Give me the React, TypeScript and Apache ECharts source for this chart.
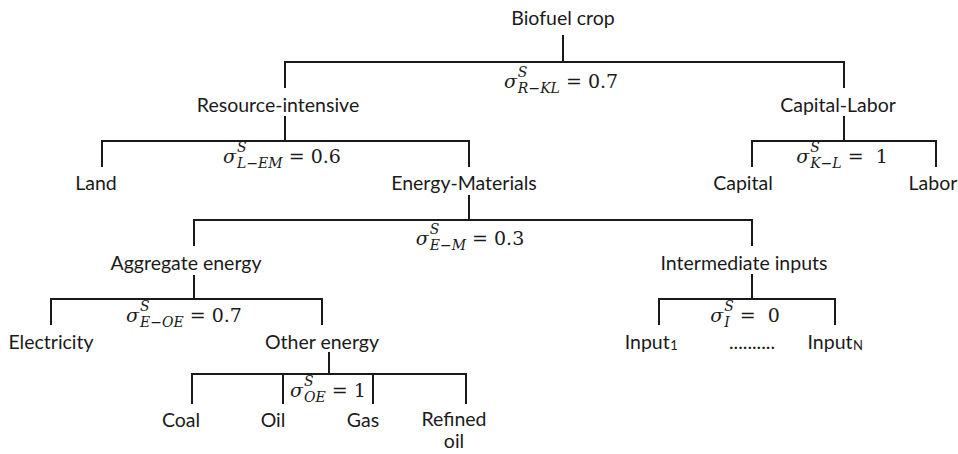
import React, { useEffect, useRef } from "react";
import * as echarts from "echarts";

// ---- Tree node labels (centre positions in diagram units) ----
const nodeLabels = [
  "Biofuel crop", "Resource-intensive", "Capital-Labor", "Land", "Energy-Materials",
  "Capital", "Labor", "Aggregate energy", "Intermediate inputs", "Electricity",
  "Other energy", "Input", "..........", "Input", "Coal", "Oil", "Gas", "Refined\noil",
];
const nodeSubscripts = ["", "", "", "", "", "", "", "", "", "", "", "1", "", "N", "", "", "", ""];
const nodeX = [563, 278, 838, 96, 464, 743, 933, 186, 744, 51, 322, 651, 752, 835, 181, 273, 363, 454];
const nodeY = [17, 104, 104, 182, 182, 182, 182, 262, 262, 341, 341, 341, 341, 341, 419, 419, 419, 429];

// ---- Elasticity of substitution labels ----
const sigmaSub = ["R\u2212KL", "L\u2212EM", "K\u2212L", "E\u2212M", "E\u2212OE", "I", "OE"];
const sigmaValue = ["0.7", "0.6", " 1", "0.3", "0.7", " 0", "1"];
const sigmaX = [561, 282, 842, 470, 184, 745, 328];
const sigmaY = [81, 156, 156, 238, 315, 315, 390];

// ---- Brackets (nest structure) ----
const bracketStemX = [563, 285, 844, 469, 194, 752, 329];
const bracketStemTop = [35, 116, 116, 195, 275, 274, 352];
const bracketBarY = [62, 141, 141, 220, 299, 299, 374];
const bracketDropBottom = [88, 167, 167, 246, 325, 325, 404];
const bracketChildX = [
  [285, 844], [102, 469], [752, 936], [194, 752], [51, 322], [659, 835], [192, 283, 373, 466],
];

const LABEL_FONT = "Lato";
const LABEL_SIZE = 19.5;
const SUB_SIZE = 13;
const MATH_FONT = "DejaVu Serif";
const MATH_SIZE = 19;
const SCRIPT_SIZE = 14;
const INK = "#1a1a1a";

const canvas = typeof document !== "undefined" ? document.createElement("canvas") : null;
const ctx = canvas ? canvas.getContext("2d") : null;
function measure(text: string, font: string): number {
  if (!ctx) return text.length * 8;
  ctx.font = font;
  return ctx.measureText(text).width;
}

export default function App() {
  const ref = useRef<HTMLDivElement>(null);
  useEffect(() => {
    if (!ref.current) return;
    document.body.style.margin = "0";
    const chart = echarts.init(ref.current, undefined, { renderer: "svg" });

    const bracketItem = (params: any, api: any) => {
      const i = params.dataIndex;
      const sx = api.value(0), st = api.value(1), by = api.value(2), db = api.value(3);
      const xs = bracketChildX[i];
      const lo = Math.min(...xs), hi = Math.max(...xs);
      const lineStyle = { stroke: INK, lineWidth: 2, fill: null, lineJoin: "miter" };
      const children: any[] = [];
      const a0 = api.coord([sx, st]), b0 = api.coord([sx, by]);
      children.push({ type: "line", shape: { x1: a0[0], y1: a0[1], x2: b0[0], y2: b0[1] }, style: lineStyle });
      const pts = [[lo, db], [lo, by], [hi, by], [hi, db]].map((p) => api.coord(p));
      children.push({ type: "polyline", shape: { points: pts }, style: lineStyle });
      xs.filter((x) => x !== lo && x !== hi).forEach((x) => {
        const a = api.coord([x, by]), b = api.coord([x, db]);
        children.push({ type: "line", shape: { x1: a[0], y1: a[1], x2: b[0], y2: b[1] }, style: lineStyle });
      });
      return { type: "group", children };
    };

    const nodeItem = (params: any, api: any) => {
      const i = params.dataIndex;
      const p = api.coord([api.value(0), api.value(1)]);
      const label = nodeLabels[i];
      const sub = nodeSubscripts[i];
      const base = { fontFamily: LABEL_FONT, fontSize: LABEL_SIZE, fill: INK };
      if (!sub) {
        return {
          type: "text", x: p[0], y: p[1],
          style: { ...base, text: label, align: "center", verticalAlign: "middle", lineHeight: 22 },
        };
      }
      const w1 = measure(label, `${LABEL_SIZE}px ${LABEL_FONT}`);
      const w2 = measure(sub, `${SUB_SIZE}px ${LABEL_FONT}`);
      const start = p[0] - (w1 + w2) / 2;
      return {
        type: "group",
        children: [
          { type: "text", x: start, y: p[1], style: { ...base, text: label, align: "left", verticalAlign: "middle" } },
          { type: "text", x: start + w1 + 0.5, y: p[1] + 4, style: { ...base, fontSize: SUB_SIZE, text: sub, align: "left", verticalAlign: "middle" } },
        ],
      };
    };

    const sigmaItem = (params: any, api: any) => {
      const i = params.dataIndex;
      const p = api.coord([api.value(0), api.value(1)]);
      const cx = p[0], cy = p[1];
      const sub = sigmaSub[i];
      const raw = sigmaValue[i];
      const extra = raw.length - raw.trimStart().length;
      const val = raw.trim();
      const italicMain = `italic ${MATH_SIZE}px "${MATH_FONT}"`;
      const italicScript = `italic ${SCRIPT_SIZE}px "${MATH_FONT}"`;
      const plain = `${MATH_SIZE}px "${MATH_FONT}"`;
      const wSig = measure("\u03c3", italicMain);
      const wScr = Math.max(measure("S", italicScript), measure(sub, italicScript));
      const wSp = measure(" ", plain);
      const wEq = measure("=", plain);
      const wVal = measure(val, plain);
      const total = wSig + 1 + wScr + wSp + wEq + wSp * (1 + extra) + wVal;
      let x = cx - total / 2;
      const st = { fill: INK, fontFamily: MATH_FONT, align: "left", verticalAlign: "middle" };
      const children: any[] = [];
      children.push({ type: "text", x, y: cy, style: { ...st, text: "\u03c3", fontSize: MATH_SIZE, fontStyle: "italic" } });
      x += wSig + 1;
      children.push({ type: "text", x, y: cy - 9, style: { ...st, text: "S", fontSize: SCRIPT_SIZE, fontStyle: "italic" } });
      children.push({ type: "text", x, y: cy + 7, style: { ...st, text: sub, fontSize: SCRIPT_SIZE, fontStyle: "italic" } });
      x += wScr + wSp;
      children.push({ type: "text", x, y: cy, style: { ...st, text: "=", fontSize: MATH_SIZE } });
      x += wEq + wSp * (1 + extra);
      children.push({ type: "text", x, y: cy, style: { ...st, text: val, fontSize: MATH_SIZE } });
      return { type: "group", children };
    };

    chart.setOption({
      animation: false,
      backgroundColor: "#ffffff",
      grid: { left: 0, right: 0, top: 0, bottom: 0 },
      xAxis: { type: "value", min: 0, max: 958, show: false },
      yAxis: { type: "value", min: 0, max: 454, inverse: true, show: false },
      tooltip: { show: false },
      series: [
        {
          type: "custom",
          name: "brackets",
          silent: true,
          clip: false,
          renderItem: bracketItem,
          data: bracketStemX.map((x, i) => [x, bracketStemTop[i], bracketBarY[i], bracketDropBottom[i]]),
        },
        {
          type: "custom",
          name: "nodes",
          silent: true,
          clip: false,
          renderItem: nodeItem,
          data: nodeX.map((x, i) => [x, nodeY[i]]),
        },
        {
          type: "custom",
          name: "sigma",
          silent: true,
          clip: false,
          renderItem: sigmaItem,
          data: sigmaX.map((x, i) => [x, sigmaY[i]]),
        },
      ],
    });
    return () => chart.dispose();
  }, []);

  return <div ref={ref} style={{ width: 958, height: 454, background: "#fff" }} />;
}
